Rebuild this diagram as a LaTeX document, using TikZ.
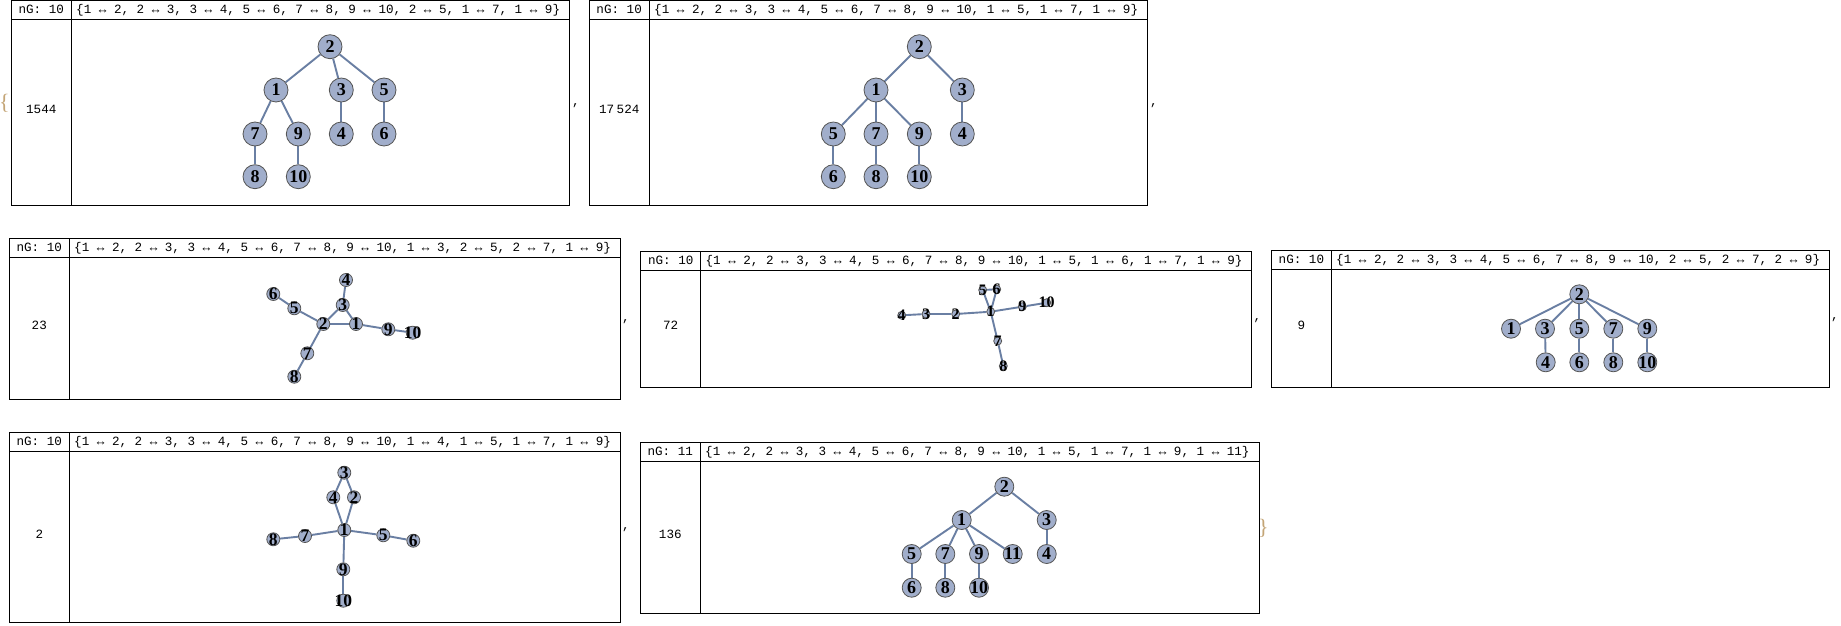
\documentclass[tikz,border=0pt]{standalone}
\usepackage{fontspec}
\setmainfont{Liberation Serif}
\newfontfamily\monof{Liberation Mono}
\definecolor{vfill}{HTML}{A1AECB}
\definecolor{vdraw}{HTML}{555555}
\definecolor{ecol}{HTML}{6A7FA3}
\definecolor{brc}{HTML}{C4A576}
\pgfdeclarelayer{bg}
\pgfdeclarelayer{edges}
\pgfsetlayers{bg,edges,main}
\tikzset{
  frame/.style={draw=black, line width=1pt},
  hd/.style={font=\monof\fontsize{12.6}{15}\selectfont, inner sep=0pt},
  vtx/.style={circle, draw=vdraw, fill=vfill, line width=0.8pt, inner sep=0pt, minimum size=#1},
  vl/.style={font=\bfseries\fontsize{#1}{#1}\selectfont, inner sep=0pt},
  ed/.style={draw=ecol, line width=1.9pt},
  brace/.style={font=\fontsize{22}{22}\selectfont, text=brc, inner sep=0pt},
}
\newcommand\gpanel[9]{%
  \draw[frame] (#2,#3) rectangle (#4,#5) (#2,#6) -- (#4,#6) (#7,#3) -- (#7,#5);
  \path ({(#2+#7)/2},{(#3+#6)/2+3.6}) node[hd,anchor=base] (#1n) {#8}
        ({#7+4.7},{(#3+#6)/2+3.6}) node[hd,anchor=base west] (#1e) {#9};
}
\newcommand\gv[5]{\node[vtx=#4] (#1) at (#2) {}; \node[vl=#5] (#1t) at (#1) {#3};}
\begin{document}
\begin{tikzpicture}[x=1pt,y=-1pt]
\useasboundingbox (0,0) rectangle (1841,626);
\begin{pgfonlayer}{bg}\fill[white] (0,0) rectangle (1841,626);\end{pgfonlayer}

% ---------- panels ----------
\gpanel{p1}{11.3}{1}{569}{205}{19.3}{71.3}{nG: 10}{\{1 ↔ 2, 2 ↔ 3, 3 ↔ 4, 5 ↔ 6, 7 ↔ 8, 9 ↔ 10, 2 ↔ 5, 1 ↔ 7, 1 ↔ 9\}}
\gpanel{p2}{589}{1}{1147.7}{205}{19.3}{649.3}{nG: 10}{\{1 ↔ 2, 2 ↔ 3, 3 ↔ 4, 5 ↔ 6, 7 ↔ 8, 9 ↔ 10, 1 ↔ 5, 1 ↔ 7, 1 ↔ 9\}}
\gpanel{p3}{9.3}{238.3}{620.7}{399.3}{257.3}{69.3}{nG: 10}{\{1 ↔ 2, 2 ↔ 3, 3 ↔ 4, 5 ↔ 6, 7 ↔ 8, 9 ↔ 10, 1 ↔ 3, 2 ↔ 5, 2 ↔ 7, 1 ↔ 9\}}
\gpanel{p4}{640.7}{251}{1251.3}{387.3}{270.3}{700.7}{nG: 10}{\{1 ↔ 2, 2 ↔ 3, 3 ↔ 4, 5 ↔ 6, 7 ↔ 8, 9 ↔ 10, 1 ↔ 5, 1 ↔ 6, 1 ↔ 7, 1 ↔ 9\}}
\gpanel{p5}{1271.5}{250.5}{1829.3}{387}{269.3}{1331.3}{nG: 10}{\{1 ↔ 2, 2 ↔ 3, 3 ↔ 4, 5 ↔ 6, 7 ↔ 8, 9 ↔ 10, 2 ↔ 5, 2 ↔ 7, 2 ↔ 9\}}
\gpanel{p6}{9.3}{432.7}{620.3}{622.7}{451.7}{69.3}{nG: 10}{\{1 ↔ 2, 2 ↔ 3, 3 ↔ 4, 5 ↔ 6, 7 ↔ 8, 9 ↔ 10, 1 ↔ 4, 1 ↔ 5, 1 ↔ 7, 1 ↔ 9\}}
\gpanel{p7}{640.3}{442.5}{1259.3}{613}{461.5}{700.3}{nG: 11}{\{1 ↔ 2, 2 ↔ 3, 3 ↔ 4, 5 ↔ 6, 7 ↔ 8, 9 ↔ 10, 1 ↔ 5, 1 ↔ 7, 1 ↔ 9, 1 ↔ 11\}}

% values
\node[hd,anchor=base] (p1v) at (41.3,113.6) {1544};
\node[hd,anchor=base] (p2v) at (619.2,113.6) {17\hspace{2.6pt}524};
\node[hd,anchor=base] (p3v) at (39.3,329.6) {23};
\node[hd,anchor=base] (p4v) at (670.7,329.6) {72};
\node[hd,anchor=base] (p5v) at (1301.4,329.8) {9};
\node[hd,anchor=base] (p6v) at (39.3,538.9) {2};
\node[hd,anchor=base] (p7v) at (670.3,538.9) {136};

% commas and braces
\node[hd,anchor=base] (c1) at (576,105.5) {,};
\node[hd,anchor=base] (c2) at (1154,105.5) {,};
\node[hd,anchor=base] (c3) at (626,321.2) {,};
\node[hd,anchor=base] (c4) at (1257.3,320.2) {,};
\node[hd,anchor=base] (c5) at (1835,319.5) {,};
\node[hd,anchor=base] (c6) at (626,529.5) {,};
\node[brace] (lb) at (4.3,103) {\{};
\node[brace] (rb) at (1263.3,528.3) {\}};

% ---------- P1 ----------
\gv{a2}{330,46.7}{2}{24pt}{18}
\gv{a1}{276,90}{1}{24pt}{18}
\gv{a3}{341.3,90}{3}{24pt}{18}
\gv{a5}{384,90}{5}{24pt}{18}
\gv{a7}{255,134}{7}{24pt}{18}
\gv{a9}{298.3,134}{9}{24pt}{18}
\gv{a4}{341.3,134}{4}{24pt}{18}
\gv{a6}{384,134}{6}{24pt}{18}
\gv{a8}{255,176.7}{8}{24pt}{18}
\gv{a10}{298.3,176.7}{10}{24pt}{18}
\begin{pgfonlayer}{edges}
\foreach \u/\w in {1/2,2/3,3/4,5/6,7/8,9/10,2/5,1/7,1/9} \draw[ed] (a\u) -- (a\w);
\end{pgfonlayer}

% ---------- P2 ----------
\gv{b2}{919.3,46.7}{2}{24pt}{18}
\gv{b1}{876,90}{1}{24pt}{18}
\gv{b3}{962.3,90}{3}{24pt}{18}
\gv{b5}{833.3,134}{5}{24pt}{18}
\gv{b7}{876,134}{7}{24pt}{18}
\gv{b9}{919.3,134}{9}{24pt}{18}
\gv{b4}{962.3,134}{4}{24pt}{18}
\gv{b6}{833.3,176.7}{6}{24pt}{18}
\gv{b8}{876,176.7}{8}{24pt}{18}
\gv{b10}{919.3,176.7}{10}{24pt}{18}
\begin{pgfonlayer}{edges}
\foreach \u/\w in {1/2,2/3,3/4,5/6,7/8,9/10,1/5,1/7,1/9} \draw[ed] (b\u) -- (b\w);
\end{pgfonlayer}

% ---------- P3 ----------
\gv{c4v}{346,280}{4}{13pt}{17.5}
\gv{c6v}{273.3,294}{6}{13pt}{17.5}
\gv{c5v}{294.3,308.3}{5}{13pt}{17.5}
\gv{c3v}{342.7,305}{3}{13pt}{17.5}
\gv{c2v}{323.3,324}{2}{13pt}{17.5}
\gv{c1v}{356,324}{1}{13pt}{17.5}
\gv{c9v}{388.3,329.3}{9}{13pt}{17.5}
\gv{c10v}{412.7,332.7}{10}{13pt}{17.5}
\gv{c7v}{307.3,353.3}{7}{13pt}{17.5}
\gv{c8v}{294.3,376.7}{8}{13pt}{17.5}
\begin{pgfonlayer}{edges}
\foreach \u/\w in {1/2,2/3,3/4,5/6,7/8,9/10,1/3,2/5,2/7,1/9} \draw[ed] (c\u v) -- (c\w v);
\end{pgfonlayer}

% ---------- P4 ----------
\gv{d4}{901.7,315.3}{4}{8pt}{16}
\gv{d3}{926,314}{3}{8pt}{16}
\gv{d2}{955.7,314}{2}{8pt}{16}
\gv{d1}{990.7,311.7}{1}{8pt}{16}
\gv{d5}{982.7,290}{5}{8pt}{16}
\gv{d6}{996.7,289.3}{6}{8pt}{16}
\gv{d9}{1022.3,306.7}{9}{8pt}{16}
\gv{d10}{1046.7,302.7}{10}{8pt}{16}
\gv{d7}{997.7,341}{7}{8pt}{16}
\gv{d8}{1003.3,366}{8}{8pt}{16}
\begin{pgfonlayer}{edges}
\foreach \u/\w in {1/2,2/3,3/4,5/6,7/8,9/10,1/5,1/6,1/7,1/9} \draw[ed] (d\u) -- (d\w);
\end{pgfonlayer}

% ---------- P5 ----------
\gv{e2}{1579.3,294.3}{2}{19pt}{18}
\gv{e1}{1511,328.7}{1}{19pt}{18}
\gv{e3}{1545,328.7}{3}{19pt}{18}
\gv{e5}{1579.3,328.7}{5}{19pt}{18}
\gv{e7}{1613.3,328.7}{7}{19pt}{18}
\gv{e9}{1647.3,328.7}{9}{19pt}{18}
\gv{e4}{1545.7,362.3}{4}{19pt}{18}
\gv{e6}{1579.3,362.3}{6}{19pt}{18}
\gv{e8}{1613.3,362.3}{8}{19pt}{18}
\gv{e10}{1647.3,362.3}{10}{19pt}{18}
\begin{pgfonlayer}{edges}
\foreach \u/\w in {1/2,2/3,3/4,5/6,7/8,9/10,2/5,2/7,2/9} \draw[ed] (e\u) -- (e\w);
\end{pgfonlayer}

% ---------- P6 ----------
\gv{f3}{344.3,472.7}{3}{13pt}{17.5}
\gv{f4}{333.3,497.3}{4}{13pt}{17.5}
\gv{f2}{354,497.3}{2}{13pt}{17.5}
\gv{f1}{344.3,530}{1}{13pt}{17.5}
\gv{f7}{305,536}{7}{13pt}{17.5}
\gv{f8}{273.3,539.3}{8}{13pt}{17.5}
\gv{f5}{383.3,535.3}{5}{13pt}{17.5}
\gv{f6}{413.3,540.7}{6}{13pt}{17.5}
\gv{f9}{343.3,569.3}{9}{13pt}{17.5}
\gv{f10}{343.3,600.7}{10}{13pt}{17.5}
\begin{pgfonlayer}{edges}
\foreach \u/\w in {1/2,2/3,3/4,5/6,7/8,9/10,1/4,1/5,1/7,1/9} \draw[ed] (f\u) -- (f\w);
\end{pgfonlayer}

% ---------- P7 ----------
\gv{g2}{1004.3,486.7}{2}{19pt}{18}
\gv{g1}{961.7,520}{1}{19pt}{18}
\gv{g3}{1046.7,520}{3}{19pt}{18}
\gv{g5}{911.7,554}{5}{19pt}{18}
\gv{g7}{945.3,554}{7}{19pt}{18}
\gv{g9}{979,554}{9}{19pt}{18}
\gv{g11}{1012.7,554}{11}{19pt}{18}
\gv{g4}{1046.7,554}{4}{19pt}{18}
\gv{g6}{911.7,587.7}{6}{19pt}{18}
\gv{g8}{945.3,587.7}{8}{19pt}{18}
\gv{g10}{979,587.7}{10}{19pt}{18}
\begin{pgfonlayer}{edges}
\foreach \u/\w in {1/2,2/3,3/4,5/6,7/8,9/10,1/5,1/7,1/9,1/11} \draw[ed] (g\u) -- (g\w);
\end{pgfonlayer}
\end{tikzpicture}
\end{document}
